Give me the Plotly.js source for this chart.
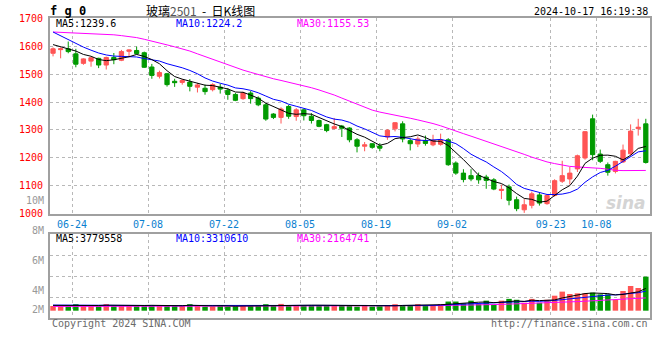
<!DOCTYPE html>
<html><head><meta charset="utf-8">
<script src="https://cdn.plot.ly/plotly-3.0.1.min.js"></script>
<style>html,body{margin:0;padding:0;background:#fff}#c{width:660px;height:360px}</style>
</head><body><div id="c"></div>
<script>
const dates = ['06-20','06-21','06-24','06-25','06-26','06-27','06-28','07-01','07-02','07-03','07-04','07-05','07-08','07-09','07-10','07-11','07-12','07-15','07-16','07-17','07-18','07-19','07-22','07-23','07-24','07-25','07-26','07-29','07-30','07-31','08-01','08-02','08-05','08-06','08-07','08-08','08-09','08-12','08-13','08-14','08-15','08-16','08-19','08-20','08-21','08-22','08-23','08-26','08-27','08-28','08-29','08-30','09-02','09-03','09-04','09-05','09-06','09-09','09-10','09-11','09-12','09-13','09-18','09-19','09-20','09-23','09-24','09-25','09-26','09-27','09-30','10-08','10-09','10-10','10-11','10-14','10-15','10-16','10-17'];
const open = [1574,1587,1590,1572,1538,1546,1556,1532,1559,1549, 1581,1584,1576,1525,1492,1501,1474,1470,1471,1453, 1449,1444,1453,1442,1427,1412,1432,1414,1390,1357, 1345,1384,1348,1372,1349,1334,1319,1305,1314,1307, 1265,1242,1251,1243,1275,1304,1322,1262,1250,1262, 1247,1249,1265,1182,1146,1137,1137,1132,1122,1084, 1097,1051,1015,1031,1068,1037,1066,1117,1125,1161, 1200,1340,1214,1176,1152,1186,1215,1305,1322];
const high = [1595,1595,1616,1590,1556,1560,1558,1562,1575,1586, 1588,1598,1580,1536,1512,1504,1483,1482,1482,1468, 1462,1467,1465,1450,1432,1437,1439,1420,1396,1360, 1381,1390,1378,1376,1360,1337,1322,1343,1318,1310, 1271,1257,1253,1253,1303,1328,1331,1268,1277,1280, 1283,1287,1271,1188,1160,1160,1148,1140,1128,1105, 1105,1062,1053,1080,1075,1070,1124,1190,1168,1212, 1296,1355,1230,1184,1190,1248,1320,1340,1340];
const low = [1563,1556,1574,1524,1533,1526,1521,1516,1535,1546, 1560,1570,1522,1483,1484,1455,1454,1462,1438,1434, 1426,1438,1430,1408,1403,1408,1394,1385,1333,1339, 1323,1340,1333,1334,1323,1310,1292,1303,1275,1256, 1220,1224,1233,1224,1265,1295,1256,1227,1239,1244, 1242,1244,1172,1140,1113,1117,1108,1090,1085,1053, 1031,1010,1004,1020,1030,1033,1062,1111,1105,1150, 1194,1192,1182,1137,1145,1182,1210,1280,1180];
const close = [1590,1590,1580,1535,1554,1558,1532,1559,1551,1580, 1586,1573,1524,1495,1505,1462,1469,1477,1456,1461, 1437,1462,1446,1427,1406,1432,1412,1390,1339,1345, 1375,1349,1372,1351,1334,1313,1298,1312,1306,1265, 1242,1247,1238,1235,1299,1326,1268,1251,1268,1252, 1263,1264,1176,1146,1123,1125,1122,1120,1089,1088, 1049,1019,1033,1072,1039,1066,1119,1137,1146,1208, 1294,1212,1188,1149,1188,1228,1296,1310,1184];
const ma5 = [1605,1598,1590,1582,1569.8,1563.4,1551.8,1547.6,1550.8,1556, 1561.6,1569.8,1562.8,1551.6,1536.6,1511.8,1491,1481.6,1473.8,1465, 1460,1458.6,1452.4,1446.6,1435.6,1434.6,1424.6,1413.4,1395.8,1383.6, 1372.2,1359.6,1356,1358.4,1356.2,1343.8,1333.6,1321.6,1312.6,1298.8, 1284.6,1274.4,1259.6,1245.4,1252.2,1269,1273.2,1275.8,1282.4,1273, 1260.4,1259.6,1244.6,1220.2,1194.4,1166.8,1138.4,1127.2,1115.8,1108.8, 1093.6,1073,1055.6,1052.2,1042.4,1045.8,1065.8,1086.6,1101.4,1135.2, 1180.8,1199.4,1209.6,1210.2,1206.2,1193,1209.8,1234.2,1241.2];
const ma10 = [1650,1636,1622,1608,1596,1585,1575,1568,1564,1562.9, 1562.5,1560.8,1555.2,1551.2,1546.3,1536.7,1530.4,1522.2,1512.7,1500.8, 1485.9,1474.8,1467,1460.2,1450.3,1447.3,1441.6,1432.9,1421.2,1409.6, 1403.4,1392.1,1384.7,1377.1,1369.9,1358,1346.6,1338.8,1335.5,1327.5, 1314.2,1304,1290.6,1279,1275.5,1276.8,1273.8,1267.7,1263.9,1262.6, 1264.7,1266.4,1260.2,1251.3,1233.7,1213.6,1199,1185.9,1168,1151.6, 1130.2,1105.7,1091.4,1084,1075.6,1069.7,1069.4,1071.1,1076.8,1088.8, 1113.3,1132.6,1148.1,1155.8,1170.7,1186.9,1204.6,1221.9,1225.7];
const ma30 = [1650,1649,1648,1647,1646,1645,1643,1641,1640,1637, 1634,1630,1624,1618,1611,1604,1597,1590,1582,1572, 1562,1552,1543,1533,1523,1514,1506,1498,1490,1483, 1477,1471,1464,1458,1451,1443,1435,1425,1414,1403, 1392,1381,1371,1364,1359,1354,1348,1342,1336,1330, 1323,1315,1305,1296,1287,1278,1269,1260,1251,1242, 1233,1223,1213,1203,1194,1186,1180,1175,1170,1168, 1167,1165,1163,1160,1156,1155,1156,1156,1155.5];
const volume = [800000,800000,850000,1100000,800000,800000,850000,1100000,850000,800000, 950000,850000,950000,950000,800000,850000,800000,800000,1100000,800000, 700000,700000,950000,700000,800000,800000,800000,850000,1100000,850000, 1150000,950000,950000,850000,950000,950000,900000,900000,950000,950000, 700000,800000,700000,750000,950000,1100000,950000,950000,1100000,950000, 950000,1100000,1550000,1550000,1250000,1700000,1150000,1700000,1000000,1700000, 2000000,1850000,1350000,2000000,1350000,1850000,2540000,3230000,2830000,2940000, 2940000,3050000,2770000,2770000,1810000,3340000,4190000,3850000,5770000];
const volMa5 = [900000,880000,860000,900000,870000,870000,880000,930000,900000,880000, 910000,880000,880000,910000,860000,880000,830000,840000,920000,860000, 840000,820000,850000,770000,770000,790000,810000,790000,870000,880000, 950000,980000,1000000,950000,930000,930000,920000,910000,930000,930000, 880000,860000,820000,780000,780000,820000,890000,940000,1010000,990000, 990000,1010000,1120000,1220000,1270000,1410000,1440000,1470000,1360000,1450000, 1510000,1650000,1580000,1780000,1710000,1720000,1820000,2160000,2410000,2680000, 2900000,3000000,2910000,2900000,2670000,2750000,2990000,3190000,3779558];
const volMa10 = [950000,940000,920000,920000,900000,890000,880000,890000,880000,880000, 890000,890000,890000,910000,900000,880000,860000,860000,890000,880000, 860000,850000,840000,840000,830000,820000,820000,810000,820000,830000, 870000,890000,900000,910000,910000,940000,950000,950000,940000,930000, 910000,890000,870000,860000,860000,870000,870000,860000,890000,890000, 900000,950000,1010000,1080000,1130000,1210000,1230000,1290000,1290000,1430000, 1460000,1540000,1510000,1610000,1580000,1620000,1730000,1870000,2000000,2190000, 2310000,2410000,2530000,2650000,2690000,2790000,3000000,3050000,3310610];
const volMa30 = [720000,720000,720000,730000,730000,730000,730000,740000,740000,740000, 740000,750000,750000,750000,750000,750000,760000,760000,760000,770000, 770000,770000,770000,780000,780000,780000,780000,790000,790000,790000, 800000,800000,800000,810000,810000,810000,820000,820000,820000,820000, 820000,820000,820000,820000,830000,830000,830000,840000,840000,840000, 850000,860000,890000,920000,940000,970000,990000,1020000,1040000,1070000, 1110000,1140000,1160000,1200000,1220000,1260000,1320000,1400000,1470000,1540000, 1610000,1680000,1750000,1810000,1850000,1920000,2020000,2080000,2164741];
const labelDates = ['06-24','07-08','07-22','08-05','08-19','09-02','09-23','10-08'];
const priceTicks = [1000,1100,1200,1300,1400,1500,1600,1700];
const legendMain = ['MA5:1239.6','MA10:1224.2','MA30:1155.53'];
const legendVol = ['MA5:3779558','MA10:3310610','MA30:2164741'];
const volAxisLabels = ['10M','8M','6M','4M','2M'];

const RED = '#ff5555', GREEN = '#009a00';
const MONO = 'DejaVu Sans Mono, monospace';
const idx = dates.map((d, i) => i);
const tickv = labelDates.map(d => dates.indexOf(d) + 0.5);
const volColors = close.map((c, i) => c >= open[i] ? RED : GREEN);

const traces = [
  {type:'candlestick', x:idx, open:open, high:high, low:low, close:close, xaxis:'x', yaxis:'y',
   increasing:{line:{color:RED, width:1}, fillcolor:RED},
   decreasing:{line:{color:GREEN, width:1}, fillcolor:GREEN},
   whiskerwidth:0, hoverinfo:'skip'},
  {type:'scatter', mode:'lines', x:idx, y:ma30, line:{color:'#ff00ff', width:1}, xaxis:'x', yaxis:'y', hoverinfo:'skip'},
  {type:'scatter', mode:'lines', x:idx, y:ma10, line:{color:'#0000ff', width:1}, xaxis:'x', yaxis:'y', hoverinfo:'skip'},
  {type:'scatter', mode:'lines', x:idx, y:ma5, line:{color:'#000000', width:1}, xaxis:'x', yaxis:'y', hoverinfo:'skip'},
  {type:'bar', x:idx, y:volume, marker:{color:volColors, line:{width:0}}, xaxis:'x2', yaxis:'y2', hoverinfo:'skip'},
  {type:'scatter', mode:'lines', x:idx, y:volMa30, line:{color:'#ff00ff', width:1}, xaxis:'x2', yaxis:'y2', hoverinfo:'skip'},
  {type:'scatter', mode:'lines', x:idx, y:volMa10, line:{color:'#0000ff', width:1}, xaxis:'x2', yaxis:'y2', hoverinfo:'skip'},
  {type:'scatter', mode:'lines', x:idx, y:volMa5, line:{color:'#000000', width:1}, xaxis:'x2', yaxis:'y2', hoverinfo:'skip'}
];

const gridC = '#b8b8b8', lineC = '#a0a0a0';
const ann = [];
const legColors = ['#000000','#0000ff','#ff00ff'];
const legX = [0.007, 0.207, 0.408];
legendMain.forEach((t, i) => ann.push({xref:'paper', yref:'paper', x:legX[i], y:0.981, xanchor:'left', yanchor:'middle', text:t, showarrow:false, font:{family:MONO, size:10, color:legColors[i]}}));
legendVol.forEach((t, i) => ann.push({xref:'paper', yref:'paper', x:legX[i], y:0.266, xanchor:'left', yanchor:'middle', text:t, showarrow:false, font:{family:MONO, size:10, color:legColors[i]}}));
const volLabY = [0.391, 0.291, 0.191, 0.091, 0.027];
volAxisLabels.forEach((t, i) => ann.push({xref:'paper', yref:'paper', x:-0.007, y:volLabY[i], xanchor:'right', yanchor:'middle', text:t, showarrow:false, font:{family:MONO, size:10, color:'#999999'}}));
ann.push({xref:'paper', yref:'paper', x:-0.003, y:1.025, xanchor:'left', yanchor:'middle', text:'<b>f g 0</b>', showarrow:false, font:{family:MONO, size:12, color:'#000'}});
ann.push({xref:'paper', yref:'paper', x:0.25, y:1.025, xanchor:'center', yanchor:'middle', text:'玻璃<span style="color:#555">2501</span>&nbsp;&nbsp;-&nbsp;&nbsp;日K线图', showarrow:false, font:{family:'Noto Sans CJK SC', size:12, color:'#000'}});
ann.push({xref:'paper', yref:'paper', x:1.0, y:1.02, xanchor:'right', yanchor:'middle', text:'2024-10-17 16:19:38', showarrow:false, font:{family:MONO, size:10, color:'#000'}});
ann.push({xref:'paper', yref:'paper', x:0, y:-0.018, xanchor:'left', yanchor:'middle', text:'Copyright 2024 SINA.COM', showarrow:false, font:{family:MONO, size:10, color:'#6a6a6a'}});
ann.push({xref:'paper', yref:'paper', x:1.0, y:-0.018, xanchor:'right', yanchor:'middle', text:'http://finance.sina.com.cn', showarrow:false, font:{family:MONO, size:10, color:'#6a6a6a'}});
ann.push({xref:'paper', yref:'paper', x:0.997, y:0.383, xanchor:'right', yanchor:'middle', text:'<b><i>sina</i></b>', showarrow:false, font:{family:'DejaVu Sans', size:17, color:'#d4d4d4'}});

const layout = {
  width:660, height:360,
  margin:{l:50, r:10, t:18, b:42, pad:0},
  paper_bgcolor:'#ffffff', plot_bgcolor:'#ffffff',
  showlegend:false, boxgap:0.2, bargap:0.28,
  xaxis:{domain:[0,1], anchor:'y', range:[-0.4,78.55], tickmode:'array', tickvals:tickv, ticktext:labelDates,
    tickfont:{family:MONO, size:10, color:'#0a7fd0'}, ticks:'', showgrid:true, gridcolor:gridC, griddash:'dot', gridwidth:1,
    showline:true, mirror:true, linecolor:lineC, linewidth:2, zeroline:false, rangeslider:{visible:false}, fixedrange:true},
  yaxis:{domain:[0.3467,1], anchor:'x', range:[1000,1700], tickmode:'array', tickvals:priceTicks,
    tickfont:{family:MONO, size:10, color:'#ff0000'}, ticks:'outside', ticklen:3, tickcolor:'rgba(0,0,0,0)', showgrid:true, gridcolor:gridC, griddash:'dot', gridwidth:1,
    showline:true, mirror:true, linecolor:lineC, linewidth:2, zeroline:false, fixedrange:true},
  xaxis2:{domain:[0,1], anchor:'y2', matches:'x', tickmode:'array', tickvals:tickv, showticklabels:false, ticks:'',
    showgrid:true, gridcolor:gridC, griddash:'dot', gridwidth:1, showline:true, mirror:true, linecolor:lineC, linewidth:2, zeroline:false},
  yaxis2:{domain:[0,0.28], anchor:'x2', range:[-1240000,13000000], tickmode:'array', tickvals:[2320000,5880000,9440000], showticklabels:false, ticks:'',
    showgrid:true, gridcolor:gridC, griddash:'dot', gridwidth:1, showline:true, mirror:true, linecolor:lineC, linewidth:2, zeroline:false, fixedrange:true},
  annotations:ann
};
Plotly.newPlot('c', traces, layout, {staticPlot:true, displayModeBar:false});
</script></body></html>
